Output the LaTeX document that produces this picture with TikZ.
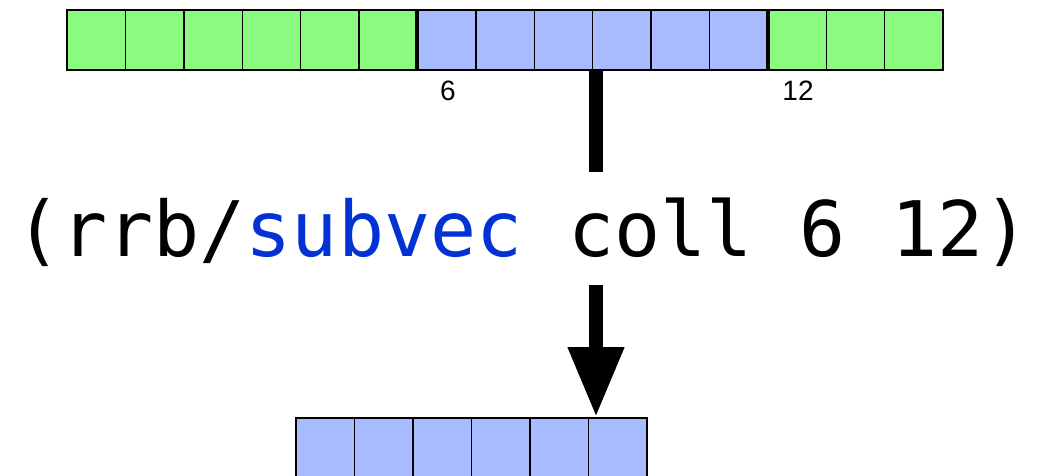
\documentclass[tikz,border=0pt]{standalone}
\usepackage{fontspec}
\setmainfont{Liberation Sans}
\newfontfamily\codefont{DejaVu Sans Mono}
\usetikzlibrary{arrows.meta}
\definecolor{cellgreen}{RGB}{138,250,128}
\definecolor{cellblue}{RGB}{168,187,255}
\definecolor{kwblue}{RGB}{2,50,212}
\tikzset{
  cell/.style={draw=black, line width=1.4pt, minimum width=58.4pt, minimum height=60pt, inner sep=0pt, outer sep=0pt},
  gcell/.style={cell, fill=cellgreen},
  bcell/.style={cell, fill=cellblue},
  sep/.style={line width=4pt, line cap=butt},
  idx/.style={font=\fontsize{28}{30}\selectfont, inner sep=0pt, anchor=base},
  flow/.style={line width=14pt, line cap=butt},
}
\begin{document}
\begin{tikzpicture}[x=1pt,y=1pt]
\useasboundingbox (0,0) rectangle (1038,-475);
% top array
\foreach \i in {0,...,14} {
  \pgfmathsetmacro{\cx}{67+58.4*\i+29.2}
  \ifnum\i<6 \def\st{gcell}\else\ifnum\i<12 \def\st{bcell}\else\def\st{gcell}\fi\fi
  \node[\st] (c\i) at (\cx,-40) {};
}
\draw[sep] (c5.north east) -- (c5.south east);
\draw[sep] (c11.north east) -- (c11.south east);
\node[idx] (l6) at (448,-100) {6};
\node[idx] (l12) at (798,-100) {12};
% code line
\node[inner sep=0pt, anchor=base, font=\codefont\fontsize{76.6}{80}\selectfont] (code) at (522.5,-256)
  {(rrb/{\color{kwblue}subvec} coll 6 12)};
% bottom array
\foreach \i in {0,...,5} {
  \pgfmathsetmacro{\cx}{296+58.5*\i+29.25}
  \node[bcell] (d\i) at (\cx,-448) {};
}
\coordinate (s1) at (596,-70);
\coordinate (e1) at (596,-172);
\coordinate (s2) at (596,-285);
\coordinate (e2) at (596,-417);
\draw[flow] (s1) -- (e1);
\draw[flow, -{Triangle[width=53pt,length=70pt]}] (s2) -- (e2);
\end{tikzpicture}
\end{document}
